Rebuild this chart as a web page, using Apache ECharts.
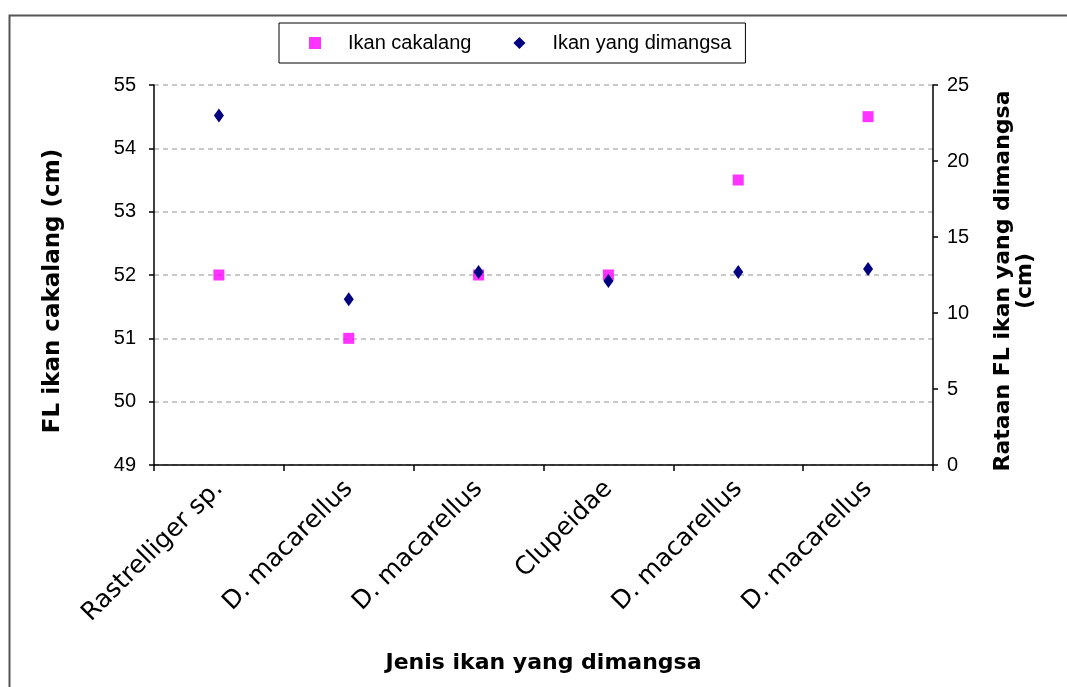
<!DOCTYPE html>
<html>
<head>
<meta charset="utf-8">
<script src="https://cdn.jsdelivr.net/npm/echarts@6/dist/echarts.min.js"></script>
<style>
html,body{margin:0;padding:0;background:#fff;}
#chart{width:1067px;height:687px;}
</style>
</head>
<body>
<div id="chart"></div>
<script>
var categories = ['Rastrelliger sp.', 'D. macarellus', 'D. macarellus', 'Clupeidae', 'D. macarellus', 'D. macarellus'];
var cakalang = [52, 51, 52, 52, 53.5, 54.5];
var dimangsa = [23, 10.9, 12.7, 12.1, 12.7, 12.9];
var leftTicks = [49, 55, 1];
var rightTicks = [0, 25, 5];

var chart = echarts.init(document.getElementById('chart'));
var tickFont = {color: '#000', fontFamily: 'Liberation Sans, Arial, sans-serif', fontSize: 20};
var titleFont = {color: '#000', fontFamily: 'DejaVu Sans, sans-serif', fontWeight: 'bold', fontSize: 22};
chart.setOption({
  animation: false,
  backgroundColor: '#fff',
  graphic: [{
    type: 'rect', left: 7, top: 13,
    shape: {width: 1200, height: 800},
    style: {fill: 'none', stroke: '#555', lineWidth: 2},
    silent: true, z: -10
  }],
  legend: {
    left: 279, top: 23,
    padding: [10, 14, 10, 30],
    itemGap: 42,
    itemWidth: 12, itemHeight: 12,
    borderColor: '#000', borderWidth: 1,
    textStyle: {color: '#000', fontFamily: 'Liberation Sans, Arial, sans-serif', fontSize: 20, padding: [0, 0, 0, 22]},
    data: [{name: 'Ikan cakalang', icon: 'rect'}, {name: 'Ikan yang dimangsa', icon: 'diamond'}]
  },
  grid: {left: 154, right: 134, top: 85, bottom: 222, containLabel: false},
  xAxis: {
    type: 'category',
    data: categories,
    boundaryGap: true,
    name: 'Jenis ikan yang dimangsa',
    nameLocation: 'middle',
    nameGap: 187,
    nameTextStyle: titleFont,
    axisLine: {lineStyle: {color: '#000', width: 1.5}},
    axisTick: {show: true, alignWithLabel: false, length: 6, lineStyle: {color: '#000', width: 1.5}},
    axisLabel: {rotate: 45, margin: 20, interval: 0, color: '#000', fontFamily: 'DejaVu Sans, sans-serif', fontSize: 25},
    splitLine: {show: false}
  },
  yAxis: [{
    type: 'value',
    min: leftTicks[0], max: leftTicks[1], interval: leftTicks[2],
    position: 'left',
    name: 'FL ikan cakalang (cm)',
    nameLocation: 'middle',
    nameRotate: 90,
    nameGap: 89,
    nameTextStyle: Object.assign({}, titleFont, {fontSize: 23, padding: [0, 32, 0, 0]}),
    axisLine: {show: true, lineStyle: {color: '#000', width: 1.5}},
    axisTick: {show: true, length: 5, lineStyle: {color: '#000', width: 1.5}},
    axisLabel: Object.assign({margin: 18}, tickFont),
    splitLine: {show: true, lineStyle: {color: '#b8b8b8', type: [5, 4], width: 1.5}}
  }, {
    type: 'value',
    min: rightTicks[0], max: rightTicks[1], interval: rightTicks[2],
    position: 'right',
    name: 'Rataan FL ikan yang dimangsa\n(cm)',
    nameLocation: 'middle',
    nameRotate: 90,
    nameGap: 59,
    nameTextStyle: Object.assign({padding: [0, 12, 0, 0], lineHeight: 22, align: 'center'}, titleFont),
    axisLine: {show: true, lineStyle: {color: '#000', width: 1.5}},
    axisTick: {show: true, length: 5, lineStyle: {color: '#000', width: 1.5}},
    axisLabel: Object.assign({margin: 14}, tickFont),
    splitLine: {show: false}
  }],
  series: [{
    name: 'Ikan cakalang',
    type: 'scatter',
    yAxisIndex: 0,
    symbol: 'rect',
    symbolSize: [11, 11],
    itemStyle: {color: '#FF00FF'},
    data: cakalang
  }, {
    name: 'Ikan yang dimangsa',
    type: 'scatter',
    yAxisIndex: 1,
    symbol: 'diamond',
    symbolSize: [10, 14],
    itemStyle: {color: '#000080', opacity: 1},
    data: dimangsa
  }]
});
</script>
</body>
</html>
